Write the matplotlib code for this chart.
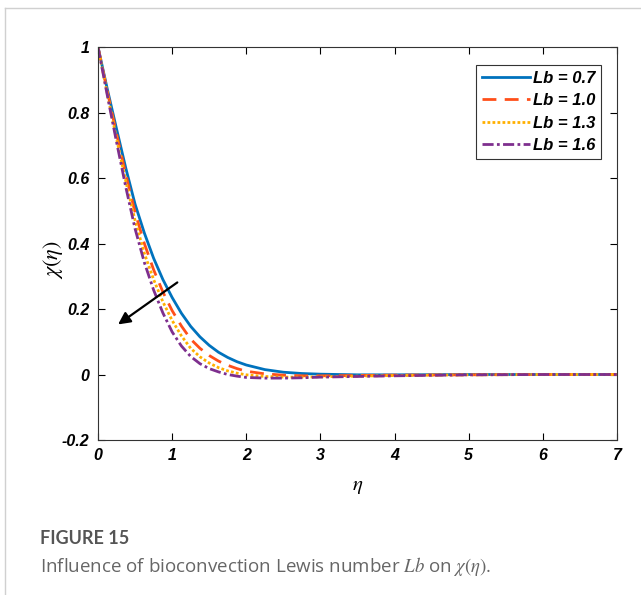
import numpy as np
import matplotlib
matplotlib.use('Agg')
import matplotlib.pyplot as plt
from matplotlib.lines import Line2D


eta = [0.0, 0.125, 0.25, 0.375, 0.5, 0.625, 0.75, 0.875, 1.0, 1.125, 1.25, 1.375,
       1.5, 1.625, 1.75, 1.875, 2.0, 2.25, 2.5, 2.75, 3.0, 3.5, 4.0, 5.0, 6.0, 7.0]

chi_07 = [1.0, 0.872, 0.75, 0.63, 0.52, 0.432, 0.355, 0.29, 0.235, 0.187, 0.147, 0.115,
          0.089, 0.068, 0.052, 0.039, 0.029, 0.015, 0.007, 0.003, 0.001, -0.001, -0.001, 0.0, 0.0, 0.0]
chi_10 = [1.0, 0.865, 0.735, 0.61, 0.495, 0.40, 0.32, 0.252, 0.195, 0.148, 0.108, 0.08,
          0.058, 0.041, 0.028, 0.018, 0.010, 0.002, -0.002, -0.004, -0.004, -0.003, -0.002, -0.001, 0.0, 0.0]
chi_13 = [1.0, 0.858, 0.72, 0.59, 0.47, 0.37, 0.29, 0.222, 0.165, 0.118, 0.08, 0.054,
          0.035, 0.021, 0.011, 0.004, -0.001, -0.006, -0.008, -0.008, -0.007, -0.005, -0.003, -0.001, 0.0, 0.0]
chi_16 = [1.0, 0.853, 0.71, 0.572, 0.445, 0.342, 0.258, 0.188, 0.13, 0.087, 0.055, 0.033,
          0.018, 0.008, 0.0, -0.005, -0.009, -0.011, -0.011, -0.010, -0.008, -0.006, -0.004, -0.001, 0.0, 0.0]

labels = ['Lb = 0.7', 'Lb = 1.0', 'Lb = 1.3', 'Lb = 1.6']

x_ticks = [0, 1, 2, 3, 4, 5, 6, 7]
y_ticks = [-0.2, 0, 0.2, 0.4, 0.6, 0.8, 1]
y_tick_labels = ['-0.2', '0', '0.2', '0.4', '0.6', '0.8', '1']



def main():
    plt.rcParams['mathtext.fontset'] = 'stix'

    fig = plt.figure(figsize = (6.41, 5.95), dpi = 100)
    ax = fig.add_axes([0.1529, 0.2605, 0.8097, 0.6605])

    # page frame lines
    fig.add_artist(Line2D([5 / 641, 1], [587 / 595, 587 / 595], color = '#d0d0d0', lw = 1))
    fig.add_artist(Line2D([5 / 641, 5 / 641], [0, 587 / 595], color = '#d0d0d0', lw = 1))

    lw = 2.0
    ax.plot(eta, chi_07, color = '#0072BD', lw = lw, ls = '-', label = labels[0])
    ax.plot(eta, chi_10, color = '#FF4F1A', lw = lw, ls = (0, (5, 3)), label = labels[1])
    ax.plot(eta, chi_13, color = '#FFB000', lw = lw, ls = (0, (1, 0.8)), label = labels[2])
    ax.plot(eta, chi_16, color = '#7E2F8E', lw = lw, ls = (0, (4, 1.2, 1, 1.2)), label = labels[3])

    ax.annotate('', xy = (0.24, 0.148), xytext = (1.1, 0.286),
                arrowprops = dict(arrowstyle = '-|>', color = 'black', lw = 1.6,
                                  mutation_scale = 18))

    ax.set_xlim(0, 7)
    ax.set_ylim(-0.2, 1)
    ax.set_xticks(x_ticks)
    ax.set_yticks(y_ticks)
    ax.set_yticklabels(y_tick_labels)

    ax.tick_params(direction = 'in', length = 5, width = 0.8, top = True, right = True,
                   labelsize = 11.5, pad = 6)
    for lab in ax.get_xticklabels() + ax.get_yticklabels():
        lab.set_fontfamily('Liberation Sans')
        lab.set_fontweight('bold')
        lab.set_fontstyle('italic')

    for s in ax.spines.values():
        s.set_linewidth(0.8)
        s.set_color('#333333')

    ax.set_xlabel(r'$\eta$', fontsize = 15, labelpad = 9)
    ax.set_ylabel(r'$\chi(\eta)$', fontsize = 16)
    ax.yaxis.set_label_coords(-0.064, 0.46)

    leg = ax.legend(loc = 'upper right', bbox_to_anchor = (0.986, 0.976), handlelength = 2.9,
                    handletextpad = 0.2, borderpad = 0.35, labelspacing = 0.45,
                    fancybox = False, framealpha = 1,
                    prop = {'family': 'Liberation Sans', 'weight': 'bold', 'style': 'italic', 'size': 12})
    leg.get_frame().set_edgecolor('#333333')
    leg.get_frame().set_linewidth(0.8)

    fig.text(40 / 641, 1 - 539 / 595, 'FIGURE 15', family = 'Lato', weight = 'bold',
             fontsize = 13, color = '#555555', va = 'center')
    fig.text(40 / 641, 1 - 566 / 595, r'Influence of bioconvection Lewis number $\mathit{Lb}$ on $\chi(\eta)$.',
             family = 'Open Sans', fontsize = 13.5, color = '#666666', va = 'center')

    fig.savefig('out.png', dpi = 100)
    plt.close(fig)




if __name__ == "__main__":
    main()
